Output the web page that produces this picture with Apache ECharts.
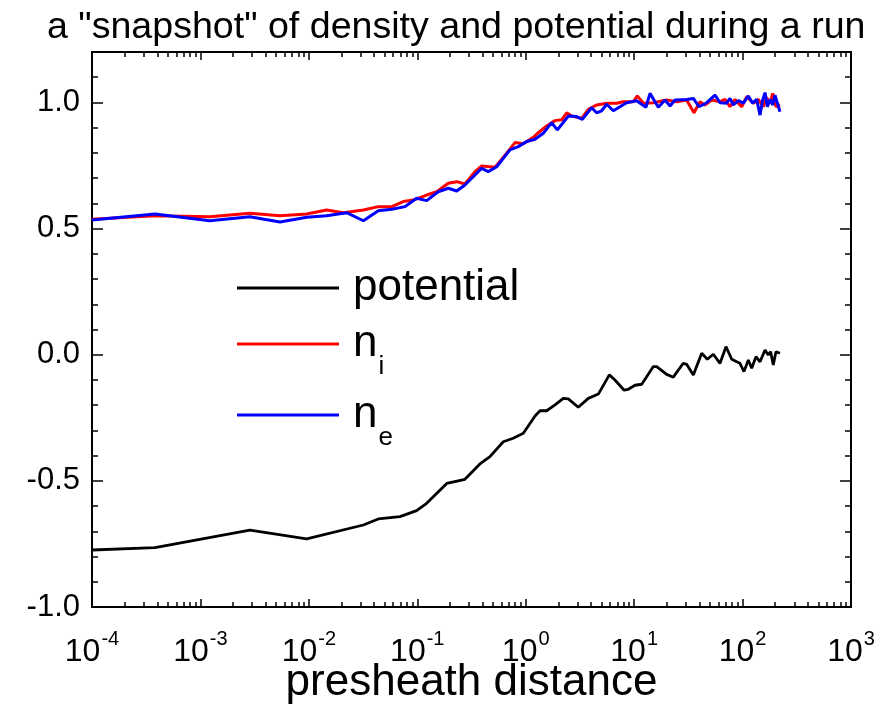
<!DOCTYPE html>
<html><head><meta charset="utf-8">
<script src="https://cdn.jsdelivr.net/npm/echarts@6/dist/echarts.min.js"></script>
<style>html,body{margin:0;padding:0;background:#fff}#c{width:886px;height:716px}</style>
</head><body><div id="c"></div>
<script>
// ---- data ----
const titleText = 'a "snapshot" of density and potential during a run';
const xAxisName = 'presheath distance';
const xTickValues = [1e-4, 1e-3, 1e-2, 1e-1, 1, 10, 100, 1000];
const xMinorTickValues = [
  2e-4,3e-4,4e-4,5e-4,6e-4,7e-4,8e-4,9e-4,
  2e-3,3e-3,4e-3,5e-3,6e-3,7e-3,8e-3,9e-3,
  2e-2,3e-2,4e-2,5e-2,6e-2,7e-2,8e-2,9e-2,
  0.2,0.3,0.4,0.5,0.6,0.7,0.8,0.9,
  2,3,4,5,6,7,8,9,
  20,30,40,50,60,70,80,90,
  200,300,400,500,600,700,800,900
];
const yTickValues = [-1.0, -0.5, 0.0, 0.5, 1.0];
const yMinorTickValues = [-1.0,-0.9,-0.8,-0.7,-0.6,-0.5,-0.4,-0.3,-0.2,-0.1,0.0,0.1,0.2,0.3,0.4,0.5,0.6,0.7,0.8,0.9,1.0,1.1,1.2];

const potentialX = [1e-4,3.81e-4,2.86e-3,9.55e-3,0.0318,0.0437,0.0692,0.0986,0.122,0.187,0.275,0.378,0.468,0.621,0.767,0.951,1.219,1.355,1.56,1.862,2.223,2.472,3.055,3.776,4.677,5.902,6.653,8.054,8.831,10.19,11.75,15.03,16.14,19.95,22.96,28.38,30.48,35.16,41.98,47.32,53.7,61.94,70.31,79.43,88.31,94.62,103.0,113.0,121.3,133.0,144.9,161.1,172.6,181.6,191.9,203.2,221.3];
const potentialY = [-0.774,-0.765,-0.695,-0.730,-0.675,-0.651,-0.642,-0.618,-0.589,-0.510,-0.494,-0.433,-0.404,-0.345,-0.331,-0.311,-0.243,-0.222,-0.222,-0.199,-0.173,-0.175,-0.208,-0.173,-0.156,-0.080,-0.100,-0.140,-0.137,-0.121,-0.117,-0.047,-0.047,-0.078,-0.089,-0.034,-0.038,-0.080,0.006,-0.018,0.002,-0.034,0.032,-0.018,-0.028,-0.034,-0.067,-0.021,-0.054,-0.008,-0.028,0.019,-0.001,0.012,-0.041,0.012,0.006];

const ionX = [1e-4,3.81e-4,1.22e-3,2.86e-3,5.42e-3,9.55e-3,0.0146,0.0208,0.0318,0.0437,0.0581,0.0743,0.0918,0.122,0.151,0.193,0.231,0.275,0.340,0.393,0.521,0.668,0.796,0.951,1.175,1.306,1.56,1.862,2.148,2.388,2.655,3.281,3.776,4.508,5.585,6.902,7.943,9.817,10.69,12.16,15.03,19.95,24.66,30.48,35.65,40.46,44.98,51.88,61.94,68.87,76.56,85.11,98.17,109.1,125.6,139.6,155.2,166.7,179.1,189.7,203.2,221.3];
const ionY = [0.537,0.551,0.547,0.561,0.551,0.558,0.574,0.563,0.574,0.587,0.587,0.607,0.613,0.633,0.646,0.680,0.686,0.677,0.726,0.748,0.743,0.799,0.841,0.836,0.862,0.880,0.907,0.928,0.931,0.959,0.946,0.937,0.973,0.990,0.997,0.997,1.003,1.003,1.026,0.997,0.999,1.010,1.003,1.010,0.959,1.003,0.990,1.010,1.003,1.012,0.983,1.012,0.983,1.023,0.997,1.012,0.983,1.020,0.997,1.036,0.983,0.990];

const elecX = [1e-4,3.81e-4,1.22e-3,2.86e-3,5.42e-3,9.55e-3,0.0146,0.0223,0.0318,0.0437,0.0581,0.0771,0.0986,0.122,0.156,0.193,0.231,0.275,0.393,0.452,0.540,0.716,0.855,1.021,1.219,1.452,1.734,1.954,2.472,2.951,3.327,4.055,4.508,5.012,5.585,6.427,7.396,8.531,10.54,12.85,14.0,16.71,19.28,21.43,23.82,30.48,35.16,39.63,46.67,55.72,61.94,71.29,76.56,82.22,91.41,101.6,113.0,123.9,134.9,144.9,153.1,161.1,169.4,179.1,189.7,199.1,208.9,221.3];
const elecY = [0.534,0.558,0.531,0.547,0.526,0.545,0.551,0.563,0.531,0.571,0.577,0.587,0.620,0.611,0.646,0.660,0.649,0.673,0.739,0.726,0.745,0.812,0.825,0.845,0.854,0.878,0.920,0.891,0.946,0.944,0.933,0.979,0.959,0.967,0.993,0.967,0.983,0.999,1.007,0.981,1.036,0.981,1.010,0.986,1.010,1.012,1.016,0.983,0.999,1.029,0.999,0.997,1.016,0.990,1.007,0.997,1.026,0.997,1.012,0.950,1.010,1.039,0.983,1.012,0.990,1.029,0.999,0.963];

const seriesNames = ['potential', 'n_i', 'n_e'];
const seriesColors = ['#000000', '#ff0000', '#0000ff'];

// ---- chart ----
const FONT = '"Liberation Sans", Arial, sans-serif';
const zip = (xs, ys) => xs.map((x, i) => [x, ys[i]]);
const chart = echarts.init(document.getElementById('c'), null, {renderer: 'canvas'});

function xAxisCfg(position, ticks, len, showLabel) {
  return {
    type: 'log', logBase: 10, min: 1e-4, max: 1e3, position: position,
    splitLine: {show: false},
    axisLine: {show: true, onZero: false, lineStyle: {color: '#000', width: 2}},
    axisTick: {show: true, inside: true, length: len, customValues: ticks, lineStyle: {color: '#000', width: 1.5}},
    axisLabel: showLabel ? {
      show: true, customValues: xTickValues, margin: 22, color: '#000', fontFamily: FONT,
      formatter: v => '{b|10}{e|' + Math.round(Math.log10(v)) + '}',
      rich: {
        b: {fontSize: 32, fontFamily: FONT, color: '#000', verticalAlign: 'middle'},
        e: {fontSize: 20, fontFamily: FONT, color: '#000', padding: [0, 0, 27, 1]}
      }
    } : {show: false}
  };
}
function yAxisCfg(position, ticks, len, showLabel) {
  return {
    type: 'value', min: -1.0, max: 1.2, position: position,
    splitLine: {show: false},
    axisLine: {show: true, onZero: false, lineStyle: {color: '#000', width: 2}},
    axisTick: {show: true, inside: true, length: len, customValues: ticks, lineStyle: {color: '#000', width: 1.5}},
    axisLabel: showLabel ? {
      show: true, customValues: yTickValues, margin: 12, color: '#000', fontSize: 31, fontFamily: FONT,
      formatter: v => v.toFixed(1)
    } : {show: false}
  };
}

const xAxes = [
  Object.assign(xAxisCfg('bottom', xTickValues, 8, true), {
    name: xAxisName, nameLocation: 'middle', nameGap: 54, nameMoveOverlap: false,
    nameTextStyle: {fontSize: 44, fontFamily: FONT, color: '#000'}
  }),
  xAxisCfg('bottom', xMinorTickValues, 5, false),
  xAxisCfg('top', xTickValues, 8, false),
  xAxisCfg('top', xMinorTickValues, 5, false)
];
const yAxes = [
  yAxisCfg('left', yTickValues, 11, true),
  yAxisCfg('left', yMinorTickValues, 6, false),
  yAxisCfg('right', yTickValues, 11, false),
  yAxisCfg('right', yMinorTickValues, 6, false)
];

const legendText = {
  fontSize: 44, fontFamily: FONT, color: '#000',
  rich: {
    n: {fontSize: 44, fontFamily: FONT, color: '#000', verticalAlign: 'middle', padding: [0, 0, 0, 9]},
    s: {fontSize: 26, fontFamily: FONT, color: '#000', padding: [46, 0, 0, 1]}
  }
};
function legendCfg(name, top) {
  return {
    data: [name], left: 237, top: top, orient: 'vertical', padding: 0,
    icon: 'rect', itemWidth: 102, itemHeight: 3, itemGap: 0,
    textStyle: legendText,
    formatter: n => {
      if (n === 'n_i') return '{n|n}{s|i}';
      if (n === 'n_e') return '{n|n}{s|e}';
      return '{n|' + n + '}';
    },
    selectedMode: false
  };
}

chart.setOption({
  backgroundColor: '#fff',
  animation: false,
  title: {
    text: titleText, left: 42, top: 4,
    textStyle: {fontSize: 37.6, fontWeight: 'normal', fontFamily: FONT, color: '#000'}
  },
  grid: {left: 92, right: 35, top: 52, bottom: 109, containLabel: false},
  xAxis: xAxes,
  yAxis: yAxes,
  legend: [legendCfg('potential', 266), legendCfg('n_i', 322), legendCfg('n_e', 393)],
  series: [
    {name: seriesNames[0], type: 'line', data: zip(potentialX, potentialY), symbol: 'none', color: seriesColors[0], lineStyle: {width: 2.8, color: seriesColors[0]}, z: 2},
    {name: seriesNames[1], type: 'line', data: zip(ionX, ionY), symbol: 'none', color: seriesColors[1], lineStyle: {width: 3, color: seriesColors[1]}, z: 3},
    {name: seriesNames[2], type: 'line', data: zip(elecX, elecY), symbol: 'none', color: seriesColors[2], lineStyle: {width: 3, color: seriesColors[2]}, z: 4}
  ]
});
</script></body></html>
